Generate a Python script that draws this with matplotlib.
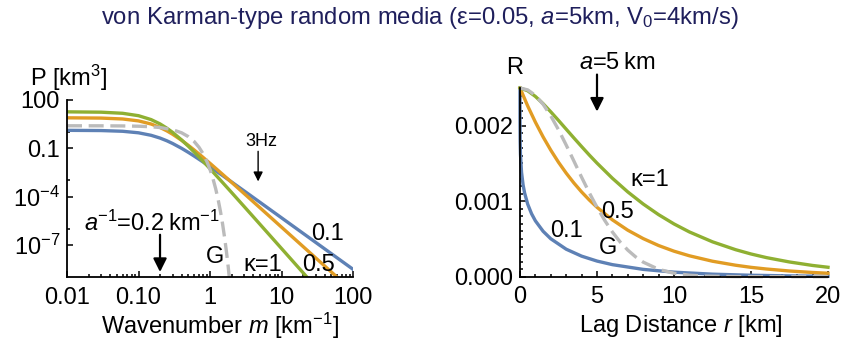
import matplotlib
matplotlib.use("Agg")
import matplotlib.pyplot as plt
from matplotlib.ticker import FixedLocator, NullFormatter

plt.rcParams['font.family'] = ['Liberation Sans', 'DejaVu Sans']
plt.rcParams['mathtext.fontset'] = 'custom'
plt.rcParams['mathtext.rm'] = 'Liberation Sans'
plt.rcParams['mathtext.it'] = 'Liberation Sans:italic'

# power spectral density P(m) [km^3], von Karman kappa=0.1, 0.5, 1
m_vk = [0.01, 0.03, 0.06, 0.1, 0.15, 0.2, 0.25, 0.3, 0.4, 0.5, 0.6, 0.8, 1.0,
        1.5, 2, 3, 5, 10, 20, 30, 50, 100]
p_k01 = [1.302, 1.262, 1.139, 0.915, 0.640, 0.431, 0.2902, 0.1983, 0.0996,
         0.05494, 0.03284, 0.01405, 0.00712, 2.014e-3, 8.12e-4, 2.238e-4,
         4.385e-5, 4.78e-6, 5.20e-7, 1.422e-7, 2.773e-8, 3.018e-9]
p_k05 = [7.815, 7.512, 6.611, 5.027, 3.217, 1.9635, 1.196, 0.7435, 0.3142,
         0.1494, 0.07854, 0.02718, 0.01162, 2.396e-3, 7.70e-4, 1.538e-4,
         2.004e-5, 1.256e-6, 7.853e-8, 1.551e-8, 2.011e-9, 1.257e-10]
p_k1 = [18.39, 17.50, 14.92, 10.59, 6.064, 3.271, 1.760, 0.9718, 0.3310,
        0.1307, 0.05852, 0.01553, 5.368e-3, 7.46e-4, 1.805e-4, 2.410e-5,
        1.887e-6, 5.917e-8, 1.850e-9, 2.436e-10, 1.9e-11, 5.9e-13]
# Gaussian
m_g = [0.01, 0.03, 0.06, 0.1, 0.15, 0.2, 0.3, 0.4, 0.5, 0.6, 0.7, 0.8, 0.9,
       1.0, 1.1, 1.2, 1.3, 1.4, 1.5, 1.6, 1.7, 1.8, 1.9, 2.0]
p_g = [2.50, 2.486, 2.444, 2.349, 2.172, 1.947, 1.4245, 0.9197, 0.5240,
       0.2635, 0.1169, 0.04579, 0.015825, 4.826e-3, 1.2993e-3, 3.085e-4,
       6.467e-5, 1.1963e-5, 1.9526e-6, 2.813e-7, 3.578e-8, 4.014e-9,
       3.98e-10, 3.48e-11]

# autocorrelation R(r)
r_k01 = [0, 1e-6, 1e-4, 0.001, 0.01, 0.03, 0.1, 0.2, 0.3, 0.5, 0.75, 1, 1.5,
         2, 3, 4, 5, 6, 8, 10, 12.5, 15, 17.5, 20]
R_k01 = [0.0025, 0.002388, 0.002219, 0.002055, 0.0017945, 0.0016213,
         0.0013822, 0.0012164, 0.0011086, 0.000961, 0.0008343, 0.0007399,
         0.0006019, 0.0005022, 0.0003643, 0.0002723, 0.0002072, 0.0001596,
         0.0000969, 0.00006, 0.0000336, 0.000019, 0.0000109, 0.0000063]
r_vk = [0, 0.5, 1, 1.5, 2, 2.5, 3, 3.5, 4, 4.5, 5, 6, 7, 8, 9, 10, 11, 12.5,
        14, 15, 16, 17.5, 19, 20]
R_k05 = [0.0025, 0.002262, 0.002047, 0.001852, 0.001676, 0.001516, 0.001372,
         0.0012415, 0.001123, 0.0010164, 0.00092, 0.000753, 0.000616,
         0.000505, 0.000413, 0.000338, 0.000277, 0.000205, 0.000152,
         0.000124, 0.0001019, 0.0000755, 0.0000559, 0.0000458]
R_k1 = [0.0025, 0.002463, 0.002388, 0.002292, 0.002184, 0.0020705, 0.001954,
        0.001838, 0.001724, 0.001612, 0.001505, 0.001304, 0.001123, 0.000963,
        0.000822, 0.000699, 0.000593, 0.000462, 0.000358, 0.000301, 0.000253,
        0.000195, 0.000149, 0.000125]
r_g = [0, 0.5, 1, 1.5, 2, 2.5, 3, 3.5, 4, 4.5, 5, 5.5, 6, 6.5, 7, 7.5, 8, 9,
       10, 11, 12, 14, 16, 20]
R_g = [0.0025, 0.002475, 0.002402, 0.002285, 0.00213, 0.001947, 0.001744,
       0.001532, 0.001318, 0.001112, 0.00092, 0.000746, 0.000592, 0.000461,
       0.000352, 0.000264, 0.000193, 0.0000979, 0.0000458, 0.0000198,
       0.0000079, 0.00000098, 0.00000004, 0.0]

blue, orange, green, grey = '#5E81B5', '#E19C24', '#8FB032', '#BBBBBB'
lw = 2.4
fs = 17

W, H = 842, 351
fig = plt.figure(figsize=(W / 100, H / 100), dpi=100)


def fx(x):
    return x / W


def fy(y):
    return 1 - y / H


ax1 = fig.add_axes([fx(67), fy(277), (353 - 67) / W, (277 - 100) / H])
ax2 = fig.add_axes([fx(520), fy(276.7), (828 - 520) / W, (276.7 - 88) / H])

# ---- left: PSDF
ax1.plot(m_vk, p_k01, color=blue, lw=lw)
ax1.plot(m_vk, p_k05, color=orange, lw=lw)
ax1.plot(m_vk, p_k1, color=green, lw=lw)
ax1.plot(m_g, p_g, color=grey, lw=lw, dashes=(4.5, 2.0))
ax1.set_xscale('log')
ax1.set_yscale('log')
ax1.set_xlim(0.01, 100)
ax1.set_ylim(1e-9, 100)
ax1.set_xticks([0.01, 0.1, 1, 10, 100], ['0.01', '0.10', '1', '10', '100'])
ax1.xaxis.set_minor_locator(FixedLocator(
    [k * 10.0 ** d for d in range(-2, 2) for k in range(2, 10)]))
ax1.xaxis.set_minor_formatter(NullFormatter())
ax1.set_yticks([1e2, 1e-1, 1e-4, 1e-7],
               ['100', '0.1', '10$^{-4}$', '10$^{-7}$'])
ax1.yaxis.set_minor_locator(FixedLocator([1, 1e-3, 1e-6]))
ax1.yaxis.set_minor_formatter(NullFormatter())

ax1.annotate('', xy=(4.71, 10 ** -3.06), xytext=(4.71, 10 ** -1.19),
             arrowprops=dict(arrowstyle='-|>', lw=1.0, color='k',
                             mutation_scale=14, shrinkA=0, shrinkB=0))
ax1.text(5.3, 10 ** -0.56, '3Hz', fontsize=13, ha='center', va='center')
ax1.annotate('', xy=(0.2, 10 ** -8.69), xytext=(0.2, 10 ** -6.375),
             arrowprops=dict(arrowstyle='-|>', lw=1.6, color='k',
                             mutation_scale=20, shrinkA=0, shrinkB=0))
ax1.text(0.154, 10 ** -5.69, '$a$$^{-1}$=0.2\u2009km$^{-1}$', fontsize=fs,
         ha='center', va='center')
ax1.text(1.17, 10 ** -7.75, 'G', fontsize=fs, ha='center', va='center')
ax1.text(5.5, 10 ** -8.25, '\u03ba=1', fontsize=fs, ha='center', va='center')
ax1.text(32.4, 10 ** -8.25, '0.5', fontsize=fs, ha='center', va='center')
ax1.text(44.7, 10 ** -6.31, '0.1', fontsize=fs, ha='center', va='center')

# ---- right: autocorrelation
for r, R, c in [(r_k01, R_k01, blue), (r_vk, R_k05, orange), (r_vk, R_k1, green)]:
    ax2.plot(r, R, color=c, lw=lw, clip_on=False)
ax2.plot(r_g, R_g, color=grey, lw=lw, dashes=(4.5, 2.0), clip_on=False)
ax2.set_xlim(0, 20)
ax2.set_ylim(0, 0.0025)
ax2.set_xticks([0, 5, 10, 15, 20], ['0', '5', '10', '15', '20'])
ax2.xaxis.set_minor_locator(FixedLocator([i for i in range(21) if i % 5]))
ax2.set_yticks([0, 0.001, 0.002], ['0.000', '0.001', '0.002'])
ax2.yaxis.set_minor_locator(FixedLocator(
    [i * 0.0001 for i in range(26) if i % 10]))

ax2.annotate('', xy=(5, 0.002187), xytext=(5, 0.002678),
             arrowprops=dict(arrowstyle='-|>', lw=1.6, color='k',
                             mutation_scale=20, shrinkA=0, shrinkB=0),
             annotation_clip=False)
ax2.text(6.3, 0.00283, '$a$=5\u2009km', fontsize=fs, ha='center',
         va='center', clip_on=False)
ax2.text(8.44, 0.001284, '\u03ba=1', fontsize=fs, ha='center', va='center')
ax2.text(6.36, 0.000859, '0.5', fontsize=fs, ha='center', va='center')
ax2.text(3.05, 0.00060, '0.1', fontsize=fs, ha='center', va='center')
ax2.text(5.71, 0.000381, 'G', fontsize=fs, ha='center', va='center')

for ax in (ax1, ax2):
    ax.spines['top'].set_visible(False)
    ax.spines['right'].set_visible(False)
    for s in ('left', 'bottom'):
        ax.spines[s].set_linewidth(1.3)
    ax.tick_params(which='both', direction='in', labelsize=fs, width=1.1)
    ax.tick_params(which='major', length=4)
    ax.tick_params(which='minor', length=2.2)
    ax.tick_params(axis='x', pad=7)
    ax.tick_params(axis='y', pad=5)

fig.text(fx(68.5), fy(78), 'P [km$^3$]', fontsize=fs, ha='center', va='center')
fig.text(fx(515), fy(68), 'R', fontsize=fs, ha='center', va='center')
fig.text(fx(219.5), fy(326), 'Wavenumber $m$ [km$^{-1}$]', fontsize=fs,
         ha='center', va='center')
fig.text(fx(681), fy(326), 'Lag Distance $r$ [km]', fontsize=fs,
         ha='center', va='center')
fig.text(fx(420), fy(18),
         'von Karman-type random media (\u03b5=0.05, $a$=5km, V$_0$=4km/s)',
         fontsize=17.2, color='#1F1F5C', ha='center', va='center')

fig.savefig('out.png', dpi=100)
